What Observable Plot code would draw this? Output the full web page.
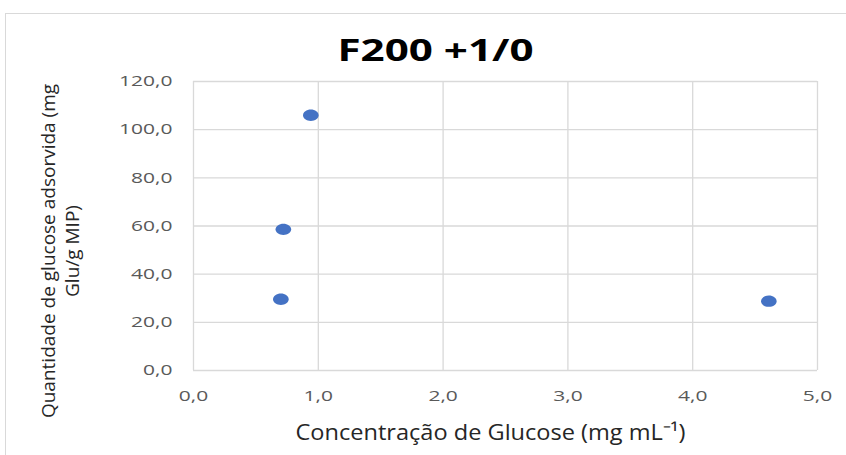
<!DOCTYPE html>
<html>
<head>
<meta charset="utf-8">
<script src="https://cdn.jsdelivr.net/npm/d3@7"></script>
<script src="https://cdn.jsdelivr.net/npm/@observablehq/plot@0.6"></script>
<style>
  html, body { margin: 0; padding: 0; background: #fff; overflow: hidden; }
  #wrap { position: relative; width: 846px; height: 455px; }
  #border { position: absolute; left: 5px; top: 13px; width: 900px; height: 500px;
            border: 1px solid #d9d9d9; box-sizing: border-box; }
  #chart { position: absolute; left: 0; top: 0; }
</style>
</head>
<body>
<div id="wrap"><div id="border"></div><div id="chart"></div></div>
<script>
// Glucose concentration (mg/mL) and adsorbed glucose (mg Glu / g MIP)
const concentration = [0.94, 0.72, 0.70, 4.61];
const adsorbed = [106.0, 58.6, 29.6, 28.8];
const xTicks = [0, 1, 2, 3, 4, 5];
const yTicks = [0, 20, 40, 60, 80, 100, 120];
const title = "F200 +1/0";
const xTitle = "Concentração de Glucose (mg mL⁻¹)";
const yTitle = "Quantidade de glucose adsorvida (mg\nGlu/g MIP)";

const points = concentration.map((c, i) => ({c, q: adsorbed[i]}));
const fmt = d => d.toFixed(1).replace(".", ",");
const font = "'Open Sans', sans-serif";

// Slightly wide marker, drawn as an ellipse with four cubic curves
const ellipse = {
  draw(ctx, size) {
    const r = Math.sqrt(size / Math.PI);
    const rx = r * 1.3, ry = r * 0.95, k = 0.5523;
    ctx.moveTo(rx, 0);
    ctx.bezierCurveTo(rx, k * ry, k * rx, ry, 0, ry);
    ctx.bezierCurveTo(-k * rx, ry, -rx, k * ry, -rx, 0);
    ctx.bezierCurveTo(-rx, -k * ry, -k * rx, -ry, 0, -ry);
    ctx.bezierCurveTo(k * rx, -ry, rx, -k * ry, rx, 0);
    ctx.closePath();
  }
};

const chart = Plot.plot({
  width: 846,
  height: 455,
  marginLeft: 193,
  marginRight: 29,
  marginTop: 81,
  marginBottom: 85,
  style: {fontFamily: font, background: "transparent"},
  x: {domain: [0, 5]},
  y: {domain: [0, 120]},
  marks: [
    Plot.gridX(xTicks, {stroke: "#d9d9d9", strokeOpacity: 1, strokeWidth: 1.3}),
    Plot.gridY(yTicks, {stroke: "#d9d9d9", strokeOpacity: 1, strokeWidth: 1.3}),
    Plot.axisX(xTicks, {tickSize: 0, tickPadding: 20, tickFormat: fmt, fontSize: 15, fill: "#595959", label: null}),
    Plot.axisY(yTicks, {tickSize: 0, tickPadding: 21, tickFormat: fmt, fontSize: 15, fill: "#595959", label: null}),
    Plot.dot(points, {x: "c", y: "q", r: 6, symbol: ellipse, fill: "#4472C4"}),
    Plot.text([title], {frameAnchor: "top", dx: -70, dy: -30, fontSize: 31, fontWeight: "bold", fill: "#000", lineAnchor: "middle"}),
    Plot.text([xTitle], {frameAnchor: "bottom", dx: -15, dy: 62, fontSize: 22, fill: "#262626", lineAnchor: "middle"}),
    Plot.text([yTitle], {frameAnchor: "left", textAnchor: "middle", rotate: -90, dx: -134, dy: 25, fontSize: 19, lineHeight: 1.28, fill: "#262626", lineAnchor: "middle"})
  ]
});
document.getElementById("chart").append(chart);

// Widen the horizontal labels to the chart's broad lettering
const root = d3.select(chart);
root.selectAll('g[aria-label="x-axis tick label"] text, g[aria-label="y-axis tick label"] text')
  .each(function() {
    this.setAttribute("textLength", this.getComputedTextLength() * 1.4);
    this.setAttribute("lengthAdjust", "spacingAndGlyphs");
  });
root.selectAll("text").filter(function() { return this.textContent === title; })
  .attr("textLength", 196).attr("lengthAdjust", "spacingAndGlyphs");
root.selectAll("text").filter(function() { return this.textContent === xTitle; })
  .attr("textLength", 390).attr("lengthAdjust", "spacingAndGlyphs");
</script>
</body>
</html>
